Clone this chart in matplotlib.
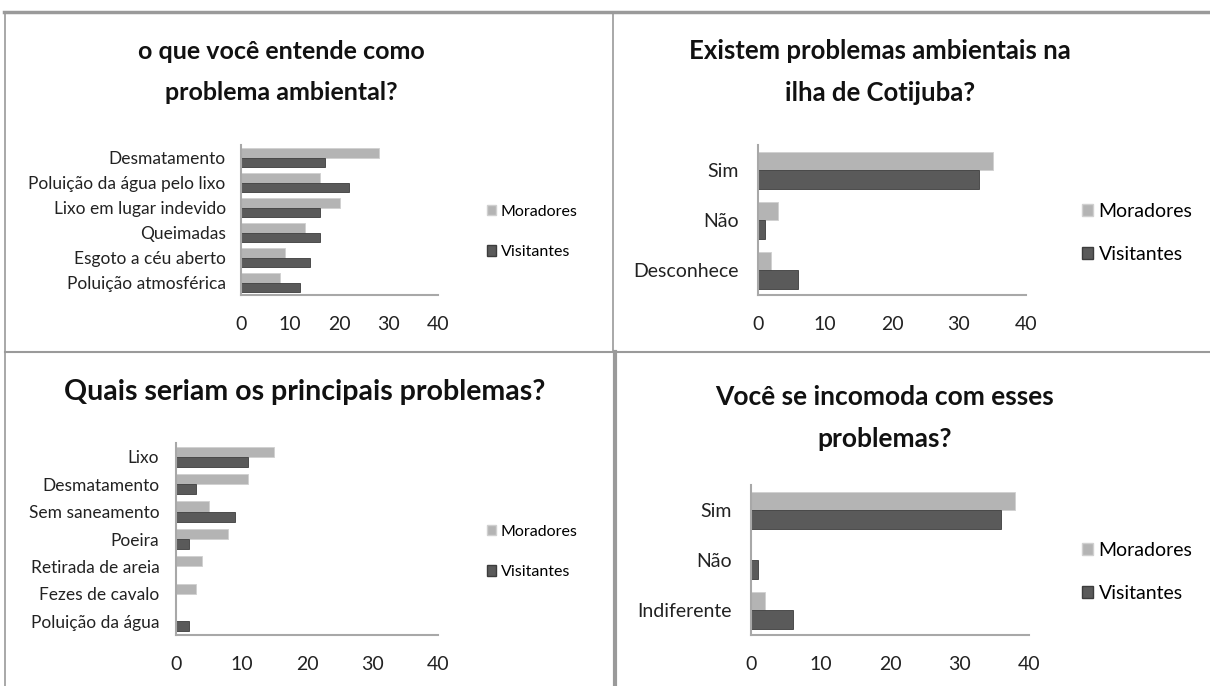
import numpy as np
import matplotlib.pyplot as plt
from matplotlib.patches import Patch
from matplotlib.lines import Line2D

plt.rcParams['font.family'] = ['Lato', 'DejaVu Sans']

W, H = 1210, 686

# Data
series = ["Moradores", "Visitantes"]
colors = ["#b4b4b4", "#5a5a5a"]

cats1 = ["Desmatamento", "Poluição da água pelo lixo", "Lixo em lugar indevido",
         "Queimadas", "Esgoto a céu aberto", "Poluição atmosférica"]
mor1 = [28, 16, 20, 13, 9, 8]
vis1 = [17, 22, 16, 16, 14, 12]

cats2 = ["Sim", "Não", "Desconhece"]
mor2 = [35, 3, 2]
vis2 = [33, 1, 6]

cats3 = ["Lixo", "Desmatamento", "Sem saneamento", "Poeira",
         "Retirada de areia", "Fezes de cavalo", "Poluição da água"]
mor3 = [15, 11, 5, 8, 4, 3, 0]
vis3 = [11, 3, 9, 2, 0, 0, 2]

cats4 = ["Sim", "Não", "Indiferente"]
mor4 = [38, 0, 2]
vis4 = [36, 1, 6]

xticks = [0, 10, 20, 30, 40]

fig = plt.figure(figsize=(W / 100, H / 100), dpi=100)
fig.patch.set_facecolor("white")


def box(x0, y0, x1, y1):
    # pixel box (top-left origin) -> figure fraction rect
    return [x0 / W, 1 - y1 / H, (x1 - x0) / W, (y1 - y0) / H]


def panel(rect, cats, mor, vis, title, title_fs, tx, ty, legx, legy,
          lab_fs, leg_fs, leg_sp, ypad):
    ax = fig.add_axes(box(*rect))
    n = len(cats)
    y = np.arange(n)
    h = 0.37
    ax.barh(y - h / 2, mor, height=h, color=colors[0], edgecolor="#d0d0d0", linewidth=0.6)
    ax.barh(y + h / 2, vis, height=h, color=colors[1], edgecolor="#3c3c3c", linewidth=0.6)
    ax.set_xlim(0, 40)
    ax.set_ylim(n - 0.5, -0.5)
    ax.set_yticks(y)
    ax.set_yticklabels(cats, fontsize=lab_fs, color="#222222")
    ax.set_xticks(xticks)
    ax.set_xticklabels([str(t) for t in xticks], fontsize=14, color="#222222")
    ax.tick_params(axis="x", length=0, pad=15)
    ax.tick_params(axis="y", length=0, pad=ypad)
    for s in ["top", "right"]:
        ax.spines[s].set_visible(False)
    for s in ["left", "bottom"]:
        ax.spines[s].set_color("#a8a8a8")
        ax.spines[s].set_linewidth(1.5)
    ax.set_facecolor("none")
    fig.text(tx / W, 1 - ty / H, title, ha="center", va="center",
             fontsize=title_fs, fontweight="bold", color="#111111", linespacing=1.9)
    handles = [Patch(facecolor=colors[0], edgecolor="#d0d0d0"),
               Patch(facecolor=colors[1], edgecolor="#3c3c3c")]
    fig.legend(handles, series, loc="center left",
               bbox_to_anchor=(legx / W, 1 - legy / H), frameon=False,
               fontsize=leg_fs, handlelength=0.55, handleheight=0.6,
               handletextpad=0.3, labelspacing=leg_sp, borderpad=0, borderaxespad=0)
    return ax


panel((241, 145, 438, 295), cats1, mor1, vis1,
      "o que você entende como\nproblema ambiental?", 18, 281, 72,
      487, 232, 12.5, 11.5, 1.65, 11)
panel((758, 145, 1026, 295), cats2, mor2, vis2,
      "Existem problemas ambientais na\nilha de Cotijuba?", 18.5, 880, 72,
      1082, 233, 14, 14, 1.35, 14)
panel((176, 443, 438, 635), cats3, mor3, vis3,
      "Quais seriam os principais problemas?", 20.5, 305, 392,
      487, 552, 12.5, 11.5, 1.65, 12)
panel((751, 485, 1029, 635), cats4, mor4, vis4,
      "Você se incomoda com esses\nproblemas?", 19, 885, 418,
      1082, 572, 14, 14, 1.35, 14)

# panel frame lines
ln = dict(transform=fig.transFigure, color="#9a9a9a")
fig.add_artist(Line2D([4 / W, 1], [1 - 12 / H] * 2, lw=2.5, **ln))
fig.add_artist(Line2D([5 / W] * 2, [1 - 12 / H, 0], lw=1.2, **ln))
fig.add_artist(Line2D([613 / W] * 2, [1 - 12 / H, 1 - 352 / H], lw=1.2, **ln))
fig.add_artist(Line2D([615 / W] * 2, [1 - 352 / H, 0], lw=3, **ln))
fig.add_artist(Line2D([5 / W, 1], [1 - 352 / H] * 2, lw=1.5, **ln))

fig.savefig("out.png", dpi=100)
